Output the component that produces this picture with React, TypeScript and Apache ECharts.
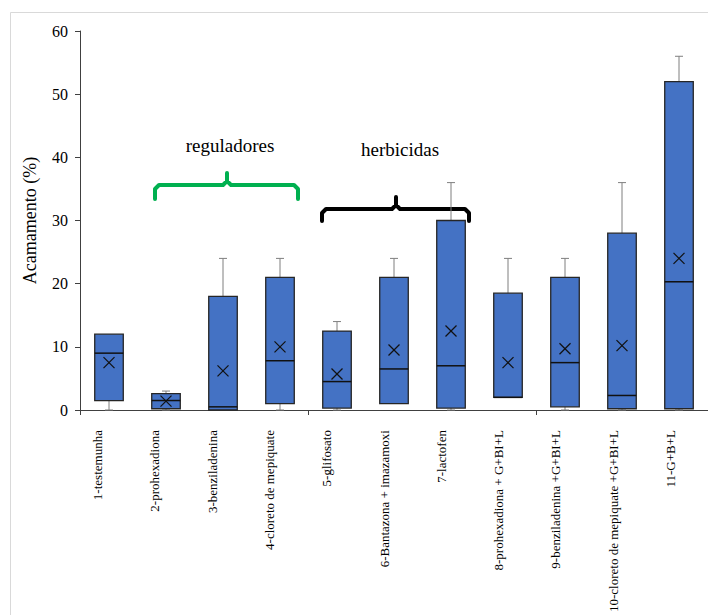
import React, { useEffect, useRef } from "react";
import * as echarts from "echarts";

const categories = [
  "1-testemunha",
  "2-prohexadiona",
  "3-benziladenina",
  "4-cloreto de mepiquate",
  "5-glifosato",
  "6-Bantazona + imazamoxi",
  "7-lactofen",
  "8-prohexadiona + G+BI+L",
  "9-benziladenina +G+BI+L",
  "10-cloreto de mepiquate +G+BI+L",
  "11-G+B+L",
];
const minValues = [0, 0, 0, 0, 0, 1, 0, 2, 0, 0, 0];
const q1Values = [1.5, 0.2, 0, 1, 0.3, 1, 0.3, 2, 0.5, 0.2, 0.2];
const medianValues = [9, 1.5, 0.5, 7.8, 4.5, 6.5, 7, 2, 7.5, 2.3, 20.3];
const q3Values = [12, 2.6, 18, 21, 12.5, 21, 30, 18.5, 21, 28, 52];
const maxValues = [12, 3, 24, 24, 14, 24, 36, 24, 24, 36, 56];
const meanValues = [7.5, 1.4, 6.2, 10, 5.7, 9.5, 12.5, 7.5, 9.7, 10.2, 24];
const yTicks = { min: 0, max: 60, interval: 10 };
const yName = "Acamamento (%)";
const groupLabels = ["reguladores", "herbicidas"];

const FONT = "Liberation Serif";

export default function App() {
  const ref = useRef<HTMLDivElement>(null);
  useEffect(() => {
    if (!ref.current) return;
    const chart = echarts.init(ref.current, null, { renderer: "svg" });
    const data = categories.map((_, i) => [
      i,
      minValues[i],
      q1Values[i],
      medianValues[i],
      q3Values[i],
      maxValues[i],
      meanValues[i],
    ]);
    const whisker = { stroke: "#7f7f7f", lineWidth: 1 };
    const option: any = {
      animation: false,
      backgroundColor: "#ffffff",
      textStyle: { fontFamily: FONT },
      grid: [
        { left: 80, top: 31, right: -2, bottom: 205, containLabel: false },
        { left: 69, top: 31, right: 9, bottom: 205, containLabel: false },
      ],
      xAxis: [
        {
          type: "category",
          gridIndex: 0,
          data: categories,
          boundaryGap: true,
          axisLine: { show: true, lineStyle: { color: "#404040", width: 1 } },
          axisTick: { show: true, inside: false, length: 5, alignWithLabel: false, lineStyle: { color: "#404040" } },
          axisLabel: { show: false },
          splitLine: { show: false },
        },
        {
          type: "category",
          gridIndex: 1,
          data: categories,
          boundaryGap: true,
          axisLine: { show: false },
          axisTick: { show: false },
          axisLabel: {
            rotate: 90,
            interval: 0,
            margin: 23,
            fontFamily: FONT,
            fontSize: 13,
            color: "#000",
          },
          splitLine: { show: false },
        },
      ],
      yAxis: [
        {
          type: "value",
          gridIndex: 0,
          min: yTicks.min,
          max: yTicks.max,
          interval: yTicks.interval,
          name: yName,
          nameLocation: "middle",
          nameRotate: 90,
          nameGap: 41,
          nameTextStyle: { fontFamily: FONT, fontSize: 18, color: "#000" },
          axisLine: { show: true, lineStyle: { color: "#404040", width: 1 } },
          axisTick: { show: true, inside: false, length: 5, lineStyle: { color: "#404040" } },
          axisLabel: { margin: 12, fontFamily: FONT, fontSize: 16, color: "#000" },
          splitLine: { show: false },
        },
        {
          type: "value",
          gridIndex: 1,
          min: yTicks.min,
          max: yTicks.max,
          interval: yTicks.interval,
          show: false,
        },
      ],
      graphic: [
        {
          type: "rect",
          z: -10,
          silent: true,
          shape: { x: 10.5, y: 12.5, width: 720, height: 620 },
          style: { fill: "none", stroke: "#d9d9d9", lineWidth: 1 },
        },
        {
          type: "text",
          x: 230,
          y: 145,
          style: {
            text: groupLabels[0],
            fontFamily: FONT,
            fontSize: 19,
            fill: "#000",
            align: "center",
            verticalAlign: "middle",
          },
        },
        {
          type: "text",
          x: 400,
          y: 149,
          style: {
            text: groupLabels[1],
            fontFamily: FONT,
            fontSize: 19,
            fill: "#000",
            align: "center",
            verticalAlign: "middle",
          },
        },
        {
          type: "polyline",
          shape: {
            points: [
              [155, 199], [155, 189], [159, 185], [223, 185], [227, 181], [227, 173],
              [227, 181], [231, 185], [294, 185], [298, 189], [298, 199],
            ],
          },
          style: { stroke: "#00B050", lineWidth: 4, fill: "none", lineJoin: "round", lineCap: "round" },
        },
        {
          type: "polyline",
          shape: {
            points: [
              [322, 221], [322, 213], [326, 209], [392, 209], [396, 205], [396, 197],
              [396, 205], [400, 209], [465, 209], [469, 213], [469, 221],
            ],
          },
          style: { stroke: "#000000", lineWidth: 4, fill: "none", lineJoin: "round", lineCap: "round" },
        },
      ],
      series: [
        {
          type: "custom",
          xAxisIndex: 0,
          yAxisIndex: 0,
          data,
          encode: { x: 0, y: [1, 2, 3, 4, 5, 6] },
          renderItem: (params: any, api: any) => {
            const idx = api.value(0);
            const band = api.size([1, 0])[0];
            const cx = Math.round(api.coord([idx, 0])[0]);
            const y = (k: number) => api.coord([idx, api.value(k)])[1];
            const yMin = y(1), yQ1 = y(2), yMed = y(3), yQ3 = y(4), yMax = y(5), yMean = y(6);
            const w = band * 0.5;
            const cap = 4;
            const children: any[] = [];
            if (yMax < yQ3 - 0.5) {
              children.push({ type: "line", shape: { x1: cx, y1: yQ3, x2: cx, y2: yMax }, style: whisker });
              children.push({ type: "line", shape: { x1: cx - cap, y1: yMax, x2: cx + cap, y2: yMax }, style: whisker });
            }
            if (yMin > yQ1 + 0.5) {
              children.push({ type: "line", shape: { x1: cx, y1: yQ1, x2: cx, y2: yMin }, style: whisker });
              children.push({ type: "line", shape: { x1: cx - cap, y1: yMin, x2: cx + cap, y2: yMin }, style: whisker });
            }
            children.push({
              type: "rect",
              shape: { x: cx - w / 2, y: yQ3, width: w, height: yQ1 - yQ3 },
              style: { fill: "#4472C4", stroke: "#262626", lineWidth: 1.3 },
            });
            children.push({
              type: "line",
              shape: { x1: cx - w / 2, y1: yMed, x2: cx + w / 2, y2: yMed },
              style: { stroke: "#111", lineWidth: 1.5 },
            });
            const s = 5.5;
            children.push({
              type: "line",
              shape: { x1: cx - s, y1: yMean - s, x2: cx + s, y2: yMean + s },
              style: { stroke: "#111", lineWidth: 1.2 },
            });
            children.push({
              type: "line",
              shape: { x1: cx - s, y1: yMean + s, x2: cx + s, y2: yMean - s },
              style: { stroke: "#111", lineWidth: 1.2 },
            });
            return { type: "group", children };
          },
        },
      ],
    };
    chart.setOption(option);
    return () => chart.dispose();
  }, []);
  return (
    <div
      ref={ref}
      style={{ position: "absolute", left: 0, top: 0, width: 708, height: 615 }}
    />
  );
}
